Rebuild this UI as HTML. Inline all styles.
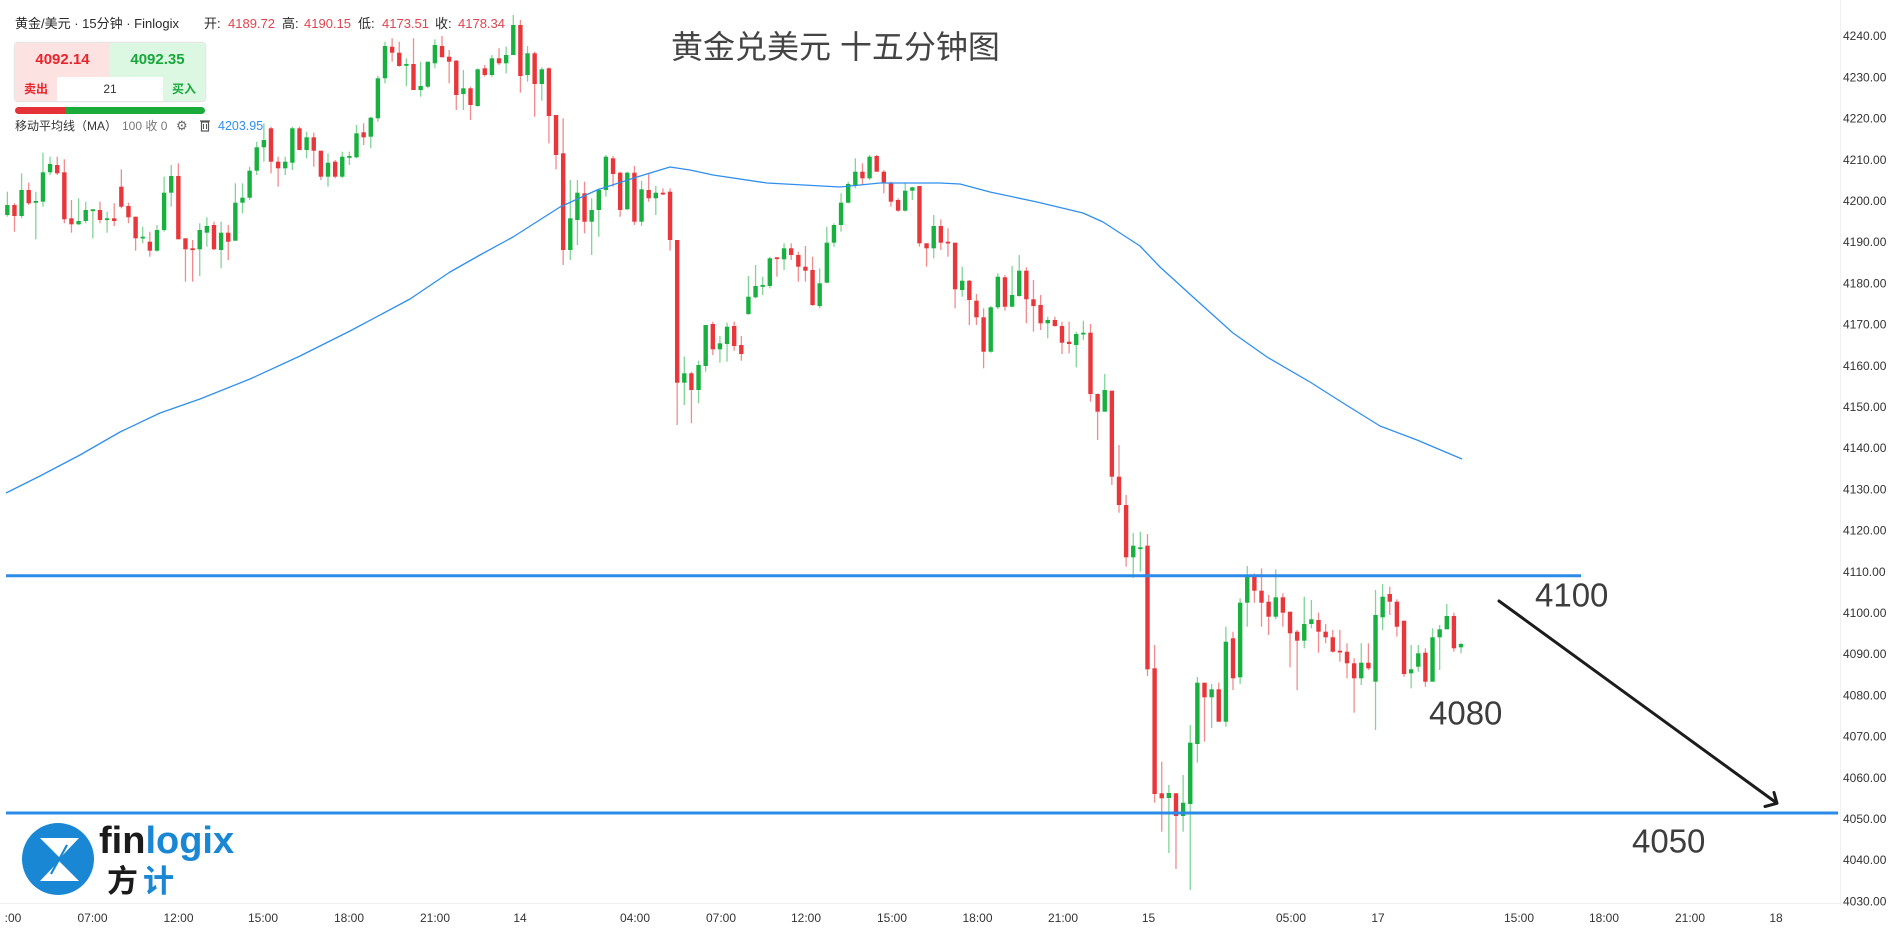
<!DOCTYPE html>
<html><head><meta charset="utf-8">
<style>
html,body{margin:0;padding:0;background:#fff;}
body{width:1896px;height:932px;overflow:hidden;position:relative;font-family:"Liberation Sans","Noto Sans CJK SC",sans-serif;}
.abs{position:absolute;white-space:nowrap;}
.hdr{top:16px;font-size:13px;line-height:16px;color:#2a2a2a;}
.red{color:#e0444f;}
</style></head>
<body>
<svg id="chart" width="1896" height="932" style="position:absolute;left:0;top:0" xmlns="http://www.w3.org/2000/svg">
  <line x1="1840.5" y1="0" x2="1840.5" y2="905" stroke="#f0f0f0" stroke-width="1"/>
  <line x1="0" y1="903.5" x2="1840" y2="903.5" stroke="#f0f0f0" stroke-width="1"/>
  <g id="prices" font-family="Liberation Sans, sans-serif" font-size="12" fill="#333"></g>
  <g id="times" font-family="Liberation Sans, sans-serif" font-size="12" fill="#333" text-anchor="middle"></g>
  <g id="candles"></g>
  <polyline id="ma" fill="none" stroke="#2f8ff0" stroke-width="1.3" stroke-linejoin="round" points="6,493 40,476 80,455 120,432 160,413 200,399 250,379 300,356 350,331 410,299 450,272 480,255 513,237 560,207 597,190 637,177 670,167 690,170 713,175 767,183 840,187 880,183 940,183 960,184 990,192 1037,202 1083,213 1103,222 1140,246 1160,267 1193,297 1233,333 1267,357 1310,382 1343,403 1380,426 1417,440 1462,459"/>
  <line x1="6" y1="575.7" x2="1581" y2="575.7" stroke="#2a8ce8" stroke-width="3"/>
  <line x1="6" y1="813" x2="1838" y2="813" stroke="#2a8ce8" stroke-width="3"/>
  <line x1="1499" y1="601" x2="1776" y2="802.5" stroke="#1c1c1c" stroke-width="3" stroke-linecap="round"/>
  <polyline points="1765,806.5 1777,803.3 1774,792.5" fill="none" stroke="#1c1c1c" stroke-width="3" stroke-linecap="round" stroke-linejoin="round"/>
  <text x="1535" y="595" dominant-baseline="central" font-family="Liberation Sans, sans-serif" font-size="33" fill="#3d3d3d">4100</text>
  <text x="1429" y="713" dominant-baseline="central" font-family="Liberation Sans, sans-serif" font-size="33" fill="#3d3d3d">4080</text>
  <text x="1632" y="841" dominant-baseline="central" font-family="Liberation Sans, sans-serif" font-size="33" fill="#3d3d3d">4050</text>
  <!-- logo -->
  <circle cx="58" cy="859" r="36" fill="#1a87d4"/>
  <polygon points="40,838 79,838 60,858" fill="#fff"/>
  <polygon points="40,881 79,881 59,861" fill="#fff"/>
  <line x1="67" y1="845" x2="51" y2="874" stroke="#1a87d4" stroke-width="2.2"/>
  <text x="99" y="853" font-family="Liberation Sans, sans-serif" font-weight="bold" font-size="38" fill="#1b1b1b">fin<tspan fill="#1a87d4">logix</tspan></text>
  <text x="107" y="892" font-family="Noto Sans CJK SC, sans-serif" font-weight="bold" font-size="31" fill="#1b1b1b">方</text>
  <text x="143" y="892" font-family="Noto Sans CJK SC, sans-serif" font-weight="bold" font-size="31" fill="#1a87d4">计</text>
</svg>

<!-- header -->
<div class="abs hdr" style="left:15px;">黄金/美元 · 15分钟 · Finlogix</div>
<div class="abs hdr" style="left:204px;">开:</div>
<div class="abs hdr red" style="left:228px;">4189.72</div>
<div class="abs hdr" style="left:282px;">高:</div>
<div class="abs hdr red" style="left:304px;">4190.15</div>
<div class="abs hdr" style="left:358px;">低:</div>
<div class="abs hdr red" style="left:382px;">4173.51</div>
<div class="abs hdr" style="left:435px;">收:</div>
<div class="abs hdr red" style="left:458px;">4178.34</div>

<!-- buy/sell box -->
<div class="abs" style="left:14px;top:42px;width:190px;height:58px;border:1px solid #e6e6e6;border-radius:4px;background:#fff;box-shadow:0 0 2px rgba(0,0,0,0.08);overflow:hidden;">
  <div class="abs" style="left:0;top:0;width:95px;height:34px;background:#fde2e2;"></div>
  <div class="abs" style="left:95px;top:0;width:95px;height:34px;background:#dcf8e3;"></div>
  <div class="abs" style="left:0;top:34px;width:42px;height:24px;background:#fde2e2;"></div>
  <div class="abs" style="left:148px;top:34px;width:42px;height:24px;background:#dcf8e3;"></div>
  <div class="abs" style="left:0;top:8px;width:95px;text-align:center;font-size:15px;line-height:18px;font-weight:bold;color:#e8242c;">4092.14</div>
  <div class="abs" style="left:95px;top:8px;width:95px;text-align:center;font-size:15px;line-height:18px;font-weight:bold;color:#18a83a;">4092.35</div>
  <div class="abs" style="left:0;top:38px;width:42px;text-align:center;font-size:12px;line-height:16px;font-weight:bold;color:#e8242c;">卖出</div>
  <div class="abs" style="left:42px;top:38px;width:106px;text-align:center;font-size:12px;line-height:16px;color:#333;">21</div>
  <div class="abs" style="left:148px;top:38px;width:42px;text-align:center;font-size:12px;line-height:16px;font-weight:bold;color:#18a83a;">买入</div>
</div>
<div class="abs" style="left:15px;top:107px;width:51px;height:7px;background:#e53238;border-radius:4px 0 0 4px;"></div>
<div class="abs" style="left:66px;top:107px;width:139px;height:7px;background:#1aab3a;border-radius:0 4px 4px 0;"></div>

<!-- MA label -->
<div class="abs" style="left:15px;top:118px;font-size:12px;line-height:16px;color:#333;">移动平均线（MA）</div>
<div class="abs" style="left:122px;top:118px;font-size:12px;line-height:16px;color:#777;">100 收 0</div>
<div class="abs" style="left:176px;top:118px;font-size:13px;line-height:16px;color:#666;">⚙</div>
<svg class="abs" style="left:200px;top:119px" width="10" height="13" xmlns="http://www.w3.org/2000/svg"><rect x="1.5" y="3" width="7" height="9" fill="none" stroke="#555" stroke-width="1.2"/><line x1="0" y1="2" x2="10" y2="2" stroke="#555" stroke-width="1.2"/><line x1="3.5" y1="5" x2="3.5" y2="10" stroke="#555"/><line x1="6.5" y1="5" x2="6.5" y2="10" stroke="#555"/></svg>
<div class="abs" style="left:218px;top:118px;font-size:12.5px;line-height:16px;color:#2f8ff0;">4203.95</div>

<!-- title -->
<div class="abs" style="left:671px;top:27px;font-size:32px;line-height:40px;color:#444;font-family:'Liberation Sans','Noto Sans CJK SC',sans-serif;">黄金兑美元 十五分钟图</div>

<script>
(function(){
var NS="http://www.w3.org/2000/svg";
function el(tag,attrs,parent,txt){var e=document.createElementNS(NS,tag);for(var k in attrs)e.setAttribute(k,attrs[k]);if(txt!==undefined)e.textContent=txt;parent.appendChild(e);return e;}
var pg=document.getElementById('prices');
for(var p=4240;p>=4030;p-=10){var y=36+(4240-p)*4.12;el('text',{x:1843,y:(y+4.2).toFixed(1)},pg,p+'.00');}
var tg=document.getElementById('times');
var T=[[":00",13],["07:00",92.5],["12:00",178.5],["15:00",263],["18:00",349],["21:00",435],["14",520],["04:00",635],["07:00",721],["12:00",806],["15:00",892],["18:00",977.5],["21:00",1063],["15",1148.5],["05:00",1291],["17",1378],["15:00",1519],["18:00",1604],["21:00",1690],["18",1776]];
T.forEach(function(t){el('text',{x:t[1],y:922},tg,t[0]);});
var D=[
[1,205,215,191.7,216.7],[0,205,216,203.3,231.7],[1,190,216,173.3,218.3],[0,190,203.3,182.7,205],[1,201,202.7,191.7,239.3],
[1,172.3,201.7,152.7,206.7],[1,164,172.3,156.7,175],[0,165,173.3,156.7,175],[0,172.3,219.3,159.3,223.3],[0,218.3,224.3,200,232.7],
[1,221,224.3,198.3,225],[1,210,221,201.7,223.3],[1,209.3,210.7,209.3,238.3],[0,210,220,201.7,223.3],[1,218.3,219.3,211.7,232.7],
[0,218.3,221,203.3,226],[0,186.7,206.7,169.3,208.3],[0,206,217.3,202.7,223.3],[0,216.7,238.3,216.7,250.7],[1,236.7,237.7,226.7,243.3],
[0,241.7,250.7,231.7,256.7],[1,230,250.7,225,251.7],[1,192.7,230,176.7,231.7],[1,176,192.7,165,206.7],[0,176,239.3,163.3,239.3],
[0,238.3,249.3,238.3,281.7],[0,248.3,249.3,240,281.7],[1,230,249.3,223.3,276],[1,226,232.7,217.3,246.7],[0,225,249.3,221.7,250],
[1,232.7,250,221.7,268.3],[0,232.7,241.7,225,260],[1,202.7,240.7,183.3,240.7],[1,197.7,202.7,183.3,213.3],[1,170.7,197.7,166.7,200],
[1,147.3,170.7,141.7,175],[1,140,147.3,123.3,161.7],[0,128.3,161.7,126.7,173.3],[0,161.7,168.3,156.7,186.7],[1,161.7,168.3,156.7,175],
[1,128.3,162.7,126.7,170],[0,128.3,150,126.7,150],[1,137.3,150,131.7,158.3],[0,137.3,150.7,132.7,166.7],[0,150.7,176.7,150.7,180],
[1,162.7,176.7,153.3,186.7],[0,161.7,176.7,160,178.3],[1,156.7,176.7,151.7,178.3],[1,156,157.3,151.7,165],[1,133.3,157.3,125,158.3],
[0,132.3,137.3,123.3,145],[1,117.7,136.7,116.7,148.3],[1,78.3,118.3,76,121.7],[1,46,78.3,41.7,83.3],[0,46.7,52.7,38.3,61.7],
[0,52.7,66,41.7,66.7],[1,64,65.3,58.3,86],[0,64,90,38.3,90],[1,86,90,61.7,96.7],[1,61.7,86.7,61.7,88.3],
[1,45,63.3,39.3,68.3],[0,46,57.3,36,57.3],[0,56.7,61.7,50,83.3],[0,60.7,95,60,110],[1,88.3,94,70,110],
[0,88.3,105,86.7,120],[1,69.3,106,68.3,106.7],[0,68.3,75,65,76.7],[1,58.3,75,55,76.7],[0,58.3,63.3,48.3,65],
[1,55,63.3,46.7,73.3],[1,25,55,15,55],[0,25,76,20,92.7],[1,53.3,75,46,81.7],[0,53.3,84,51.7,116.7],
[1,69.3,84,67.3,100.7],[0,68.3,116,67.3,143.3],[0,115,155,115,169.3],[0,153.3,250,118.3,265],[1,218.3,250,180,260],
[1,192.7,220,180,245],[0,193.3,221.7,181.7,233.3],[1,210,221.7,198.3,255],[1,190,210,188.3,236.7],[1,156.7,190,155,196.7],
[0,158.3,174,156,186.7],[0,172.7,210,171.7,216.7],[1,172.7,209.3,171.7,210],[0,172.7,221.7,166,225],[1,189.3,221.7,180.7,226],
[0,190,198.3,174,201.7],[1,192.7,198.3,186,215],[0,192.7,193.3,188.3,195],[0,191.7,240,188.3,250.7],[0,240,382.7,240,425],
[1,373.3,382.7,356.7,405],[0,373.3,390,371.7,423.3],[1,365,390,360.7,403.3],[1,325,366,325,371.7],[0,324,349.3,321.7,355],
[1,343.3,349.3,336,362.7],[1,326.7,344,322.7,361.7],[0,326,346,321.7,350.7],[0,345,354,336,360.7],[1,296.7,314,276,315],
[1,286,297.3,265,298.3],[1,285,286.7,276.7,295],[1,258.3,286,256.7,288.3],[0,257.3,258.7,257.3,276.7],[1,248.3,259.3,243.3,270],
[0,248.3,255,243.3,260],[0,255,266.7,251.7,281.7],[0,266.7,270.7,246,281.7],[0,270,305,256.7,306],[1,283.3,306,268.3,308.3],
[1,242.7,282.7,226.7,283.3],[1,225,242.7,223.3,246.7],[1,202.7,225,193.3,231.7],[1,184,202.7,181.7,203.3],[1,171.7,185,158.3,188.3],
[0,171.7,178.3,163.3,185],[1,156.7,178.3,155,180],[0,156,171.7,155,171.7],[0,171.7,182.7,170,193.3],[0,182.7,201.7,181.7,206.7],
[0,200,210.7,198.3,211.7],[1,190.7,210.7,183.3,211.7],[1,187.3,190.7,186.7,200],[0,186,243.3,186,246.7],[0,243.3,248.3,243.3,266.7],
[1,226,248.3,215,258.3],[0,226,242.7,219.3,250],[0,241.7,242.7,228.3,256.7],[0,242.7,289.3,242.7,308.3],[1,280.7,290,266.7,296.7],
[0,280.7,300,280,325],[0,300.7,317.3,294,325],[0,317.3,351.7,308.3,368.3],[1,307.3,351.7,306,352.7],[1,276.7,307.3,273.3,309.3],
[0,277.3,306.7,275,310.7],[1,295,306.7,266,307.3],[1,270.7,296,255,296.7],[0,270.7,299.3,267.3,323.3],[0,299.3,306,280,331.7],
[0,305,323.3,295,330],[1,320,323.3,316.7,338.3],[0,320,326,316.7,326.7],[0,326,342.7,321.7,354],[0,341.7,344,321.7,353.3],
[1,334,345,331.7,367.3],[1,332.7,334.3,320.7,340],[0,332.7,394,324,401.7],[0,394,411.7,393.3,440],[1,390,411.7,374,411.7],
[0,390.7,476.7,390.7,485],[0,476.7,505,445,512.7],[0,505,557.3,495,566.7],[1,545.7,557.3,533,578],[1,547.3,548.7,531.7,571.7],
[0,545.7,669.3,534,676],[0,668.3,794,645,802.7],[0,793.3,798.3,761.7,831.7],[1,793,798,785,853],[0,793.3,816,793,869],
[1,802.7,816,775,831.7],[1,742.7,804,725,890],[1,682.7,744,677,762.7],[0,682.7,697.3,682.7,741.7],[1,689.3,697.3,684,728],
[0,689.3,721.7,682.7,721.7],[1,641.7,721.7,626.7,726.7],[0,638.3,678.3,631.7,690],[1,602.7,677.3,598.3,684],[1,576.7,602.7,566,626.7],
[0,576.7,590.7,573.3,602.7],[0,590.7,602.7,568.3,626.7],[0,601.7,616.7,595,635],[1,597.3,616.7,569.3,619.3],[0,597.3,612.7,593.3,626.7],
[0,611.7,633.3,611.7,667.3],[0,631.7,640.7,630,690],[1,624,640.7,596.7,648.3],[1,619.3,624,600,628.3],[0,620,631.7,612.7,652.7],
[0,631.7,637.3,624,643.3],[0,637.3,651.7,630,652.7],[0,650.7,652,630,661.7],[0,651.7,663.3,643.3,678.3],[0,663.3,678.3,658.3,712.7],
[1,662.7,678.3,643.3,685],[0,662.7,668.3,643.3,670],[1,615,681.7,590,730],[1,596.7,617.3,584,630],[0,594,601.7,586.7,615],
[0,601.7,626.7,599.3,636.7],[0,620.7,674,620.7,676.7],[1,669.3,673.3,645,688.3],[1,653.3,666.7,645,671.7],[0,652.7,681.7,648.3,686.7],
[1,637.3,681.7,628.3,681.7],[1,629.3,637.3,625,670],[1,616,629.3,604,629.3],[0,616,648.3,612.7,651.7],[1,644,647.3,642.7,653.3]
];
var cg=document.getElementById('candles');
var bw=4.4;
D.forEach(function(c,i){
  var x=7.33+i*7.126;
  var col=c[0]?'#18b13f':'#e8363a';
  var wc=c[0]?'#7fd597':'#f28b8d';
  el('line',{x1:x.toFixed(2),x2:x.toFixed(2),y1:c[3],y2:c[4],stroke:wc,'stroke-width':1.3},cg);
  var t=Math.min(c[1],c[2]),b=Math.max(c[1],c[2]);var h=Math.max(1.8,b-t);
  el('rect',{x:(x-bw/2).toFixed(2),y:t,width:bw,height:h.toFixed(2),fill:col},cg);
});
})();
</script>
</body></html>
